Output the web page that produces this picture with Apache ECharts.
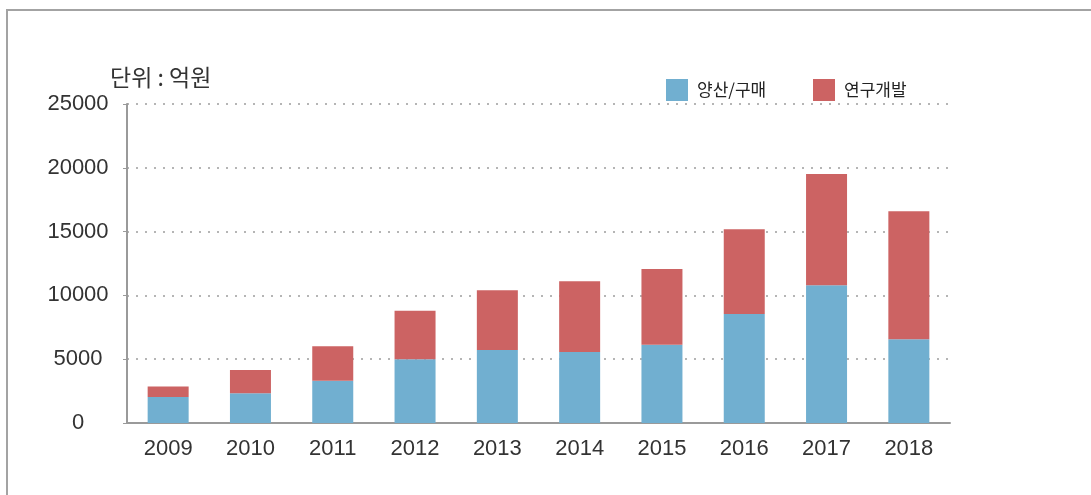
<!DOCTYPE html>
<html>
<head>
<meta charset="utf-8">
<script src="https://cdn.jsdelivr.net/npm/echarts@6/dist/echarts.min.js"></script>
<style>
  html, body { margin: 0; padding: 0; background: #fff; }
  #wrap { position: relative; width: 1091px; height: 495px; overflow: hidden; }
  #frame {
    position: absolute; left: 6px; top: 9px; width: 1200px; height: 600px;
    border-left: 2px solid #a3a3a3; border-top: 2px solid #a3a3a3;
  }
  #chart { position: absolute; left: 0; top: 0; width: 1091px; height: 495px; }
</style>
</head>
<body>
<div id="wrap">
  <div id="frame"></div>
  <div id="chart"></div>
</div>
<script>
const years = ["2009", "2010", "2011", "2012", "2013", "2014", "2015", "2016", "2017", "2018"]
const massProduction = [2040, 2330, 3320, 4990, 5720, 5560, 6140, 8540, 10790, 6560]
const researchDev = [830, 1820, 2690, 3810, 4680, 5540, 5930, 6640, 8720, 10030]
const seriesNames = ["양산/구매", "연구개발"]
const unitLabel = "단위 : 억원"

const blue = "#71afd0"
const red = "#cc6363"
const numFont = "'Liberation Sans', Arial, sans-serif"
const krFont = "'Noto Sans CJK KR', sans-serif"

const chart = echarts.init(document.getElementById("chart"), null, { renderer: "canvas" })

const legendBase = {
  top: 79,
  padding: 0,
  itemWidth: 22,
  itemHeight: 22,
  icon: "rect",
  selectedMode: false,
  textStyle: { fontFamily: krFont, fontSize: 17, color: "#222", padding: [2, 0, 0, 4] }
}

chart.setOption({
  animation: false,
  color: [blue, red],
  grid: { left: 127, right: 141, top: 104, bottom: 72 },
  legend: [
    Object.assign({}, legendBase, { left: 666, data: [seriesNames[0]] }),
    Object.assign({}, legendBase, { left: 813, data: [seriesNames[1]] })
  ],
  graphic: [{
    type: "text",
    left: 110,
    top: 66,
    style: { text: unitLabel, font: "23px " + krFont, fill: "#333" }
  }],
  xAxis: {
    type: "category",
    data: years,
    axisLine: { lineStyle: { color: "#9a9a9a", width: 2 } },
    axisTick: { show: false },
    axisLabel: { color: "#333", fontFamily: numFont, fontSize: 22, margin: 15 }
  },
  yAxis: {
    type: "value",
    min: 0,
    max: 25000,
    interval: 5000,
    axisLine: { show: true, lineStyle: { color: "#9a9a9a", width: 2 } },
    axisTick: { show: true, length: 4, lineStyle: { color: "#9a9a9a" } },
    axisLabel: {
      color: "#333", fontFamily: numFont, fontSize: 22, align: "center", margin: 49,
      formatter: v => String(v)
    },
    splitLine: { lineStyle: { color: "#b5b5b5", width: 2, type: [2, 7] } }
  },
  series: [
    {
      name: seriesNames[0],
      type: "bar",
      stack: "total",
      barWidth: 41,
      data: massProduction,
      itemStyle: { color: blue }
    },
    {
      name: seriesNames[1],
      type: "bar",
      stack: "total",
      barWidth: 41,
      data: researchDev,
      itemStyle: { color: red }
    }
  ]
})
</script>
</body>
</html>
